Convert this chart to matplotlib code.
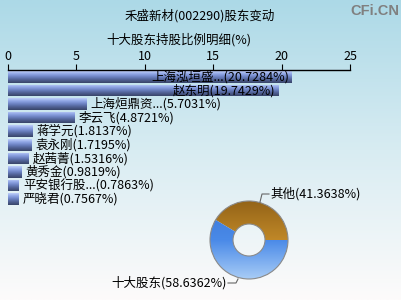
import numpy as np
import matplotlib.pyplot as plt
from matplotlib.patches import Wedge, Circle
from matplotlib.colors import LinearSegmentedColormap

plt.rcParams['font.family'] = ['Noto Sans CJK SC', 'DejaVu Sans']

# data
holders = ["上海泓垣盛...", "赵东明", "上海烜鼎资...", "李云飞", "蒋学元",
           "袁永刚", "赵茜菁", "黄秀金", "平安银行股...", "严晓君"]
shares = [20.7284, 19.7429, 5.7031, 4.8721, 1.8137,
          1.7195, 1.5316, 0.9819, 0.7863, 0.7567]
pie_labels = ["其他", "十大股东"]
pie_values = [41.3638, 58.6362]
x_ticks = [0, 5, 10, 15, 20, 25]

fig = plt.figure(figsize=(4.02, 3.0), dpi=100)

# background gradient, pixel coordinates
bg = fig.add_axes([0, 0, 1, 1])
bg.set_xlim(0, 402)
bg.set_ylim(300, 0)
bg.axis("off")
bg_cmap = LinearSegmentedColormap.from_list("bg", ["#acd9e7", "#d8ecf2", "#fdfbfb"])
grad = np.linspace(0, 1, 256).reshape(-1, 1)
bg.imshow(grad, cmap=bg_cmap, extent=(0, 402, 300, 0), aspect="auto", zorder=0)

bg.text(200, 16, "禾盛新材(002290)股东变动", ha="center", va="center", fontsize=9)
bg.text(179, 40, "十大股东持股比例明细(%)", ha="center", va="center", fontsize=9)
bg.text(399, 11, "CFi.CN", ha="right", va="center", fontsize=10.5,
        color="#808080", fontweight="bold", family="Liberation Sans")

# bars
ax = fig.add_axes([8 / 402, 1 - 206 / 300, 342 / 402, 136 / 300])
ax.patch.set_alpha(0)
bar_cmap = LinearSegmentedColormap.from_list(
    "bar", ["#c0d0fa", "#8ea4e4", "#6a80c0", "#4e5e90", "#384468"])
h = 0.86
ypos = np.arange(len(holders))
bars = ax.barh(ypos, shares, height=h, color="none")
for b, v, y in zip(bars, shares, ypos):
    im = ax.imshow(grad, cmap=bar_cmap, extent=(0, v, y + h / 2, y - h / 2),
                   aspect="auto", origin="upper", zorder=2)
    im.set_clip_path(b)
    txt = f"{holders[y]}({v:.4f}%)"
    if v > 10:
        ax.annotate(txt, (v, y), xytext=(-2, 0), textcoords="offset points",
                    ha="right", va="center", fontsize=9, zorder=3)
    else:
        ax.annotate(txt, (v, y), xytext=(3, 0), textcoords="offset points",
                    ha="left", va="center", fontsize=9, zorder=3)

ax.set_xlim(0, 25)
ax.set_ylim(9.5, -0.5)
ax.set_xticks(x_ticks)
ax.xaxis.tick_top()
ax.tick_params(axis="x", direction="out", length=4, width=0.8, labelsize=9, pad=1)
ax.set_yticks([])
for s in ["left", "right", "bottom"]:
    ax.spines[s].set_visible(False)
ax.spines["top"].set_linewidth(1.0)

# donut, pixel coordinates (y inverted so angles are negated)
cx, cy, r_out, r_in = 249, 240, 39, 16
other_deg = 360 * pie_values[0] / sum(pie_values)
orange_cmap = LinearSegmentedColormap.from_list("or", ["#946418", "#c08828", "#f2b444"])
blue_cmap = LinearSegmentedColormap.from_list("bl", ["#3a76d6", "#4a8ae8", "#a8ccf6"])
w1 = Wedge((cx, cy), r_out, -other_deg, 0, width=r_out - r_in,
           facecolor="none", edgecolor="none")
w2 = Wedge((cx, cy), r_out, 0, 360 - other_deg, width=r_out - r_in,
           facecolor="none", edgecolor="none")
for w, cm in [(w1, orange_cmap), (w2, blue_cmap)]:
    bg.add_patch(w)
    im = bg.imshow(grad, cmap=cm, extent=(cx - r_out, cx + r_out, cy + r_out, cy - r_out),
                   aspect="auto", zorder=2)
    im.set_clip_path(w)
bg.add_patch(Circle((cx, cy), r_out, facecolor="none", edgecolor="#8a8a8a", lw=0.8, zorder=3))
bg.add_patch(Circle((cx, cy), r_in, facecolor="none", edgecolor="#8a8a8a", lw=0.8, zorder=3))

# donut labels
bg.plot([260, 262, 269], [202, 194, 194], color="#666666", lw=0.8, zorder=3)
bg.text(270, 194, f"{pie_labels[0]}({pie_values[0]:.4f}%)", ha="left", va="center", fontsize=9)
bg.plot([238, 236, 228], [279, 283, 283], color="#666666", lw=0.8, zorder=3)
bg.text(227, 283, f"{pie_labels[1]}({pie_values[1]:.4f}%)", ha="right", va="center", fontsize=9)

fig.savefig("out.png", dpi=100)
